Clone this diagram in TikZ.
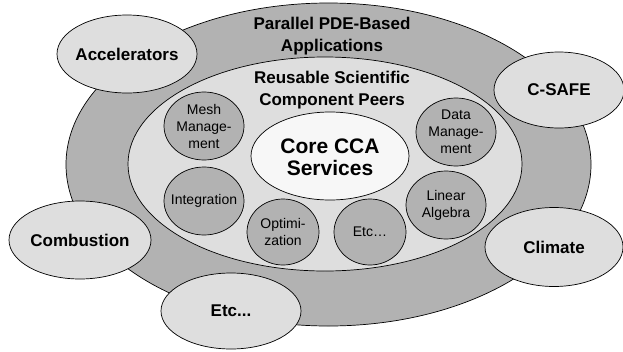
\documentclass[tikz,border=0pt]{standalone}
\usepackage{fontspec}
\setmainfont{Liberation Sans}
\usepackage{tikz}
\usetikzlibrary{shapes}
\usetikzlibrary{positioning}
\usetikzlibrary{shapes.geometric}
\definecolor{ringgray}{gray}{0.70}
\definecolor{palegray}{gray}{0.87}
\definecolor{coregray}{gray}{0.97}
\tikzstyle{blob} = [ellipse, draw=black, line width=0.7pt, inner sep=0]
\tikzstyle{app} = [blob, fill=palegray]
\tikzstyle{comp} = [blob, fill=ringgray]
\tikzstyle{bigtext} = [align=center, inner sep=0, font=\fontsize{17}{22}\selectfont\bfseries]
\tikzstyle{comptext} = [align=center, inner sep=0, font=\fontsize{14}{17}\selectfont]

\begin{document}
\begin{tikzpicture}[x=1pt, y=-1pt]
\useasboundingbox (0,0) rectangle (623,351);
\node [blob, fill=ringgray, minimum width=525, minimum height=323] (ring) at (328.5,164.5) {};
\node [bigtext] (ringlabel) at (332,36) {Parallel PDE-Based\\Applications};
\node [app, minimum width=140, minimum height=78, label={[bigtext]center:Accelerators}] (accel) at (127,54) {};
\node [app, minimum width=130, minimum height=76, label={[bigtext]center:C-SAFE}] (csafe) at (559,90) {};
\node [app, minimum width=142, minimum height=78, label={[bigtext]center:Combustion}] (combust) at (80,240) {};
\node [app, minimum width=138, minimum height=79, label={[bigtext]center:Climate}] (climate) at (554,247) {};
\node [app, minimum width=140, minimum height=76, label={[bigtext]center:Etc...}] (moreapps) at (231,311) {};
\node [blob, fill=palegray, minimum width=394, minimum height=214] (peers) at (325,164) {};
\node [bigtext] (peerlabel) at (332,90.5) {Reusable Scientific\\Component Peers};
\node [comp, minimum width=80, minimum height=68, label={[comptext]center:{Mesh\\Manage-\\ment}}] (mesh) at (204,126) {};
\node [comp, minimum width=80, minimum height=68, label={[comptext]center:Integration}] (integ) at (204,201) {};
\node [comp, minimum width=72, minimum height=66, label={[comptext]center:{Optimi-\\zation}}] (optim) at (283,232) {};
\node [comp, minimum width=72, minimum height=66, label={[comptext]center:{Etc\dots}}] (morecomps) at (370,232) {};
\node [comp, minimum width=80, minimum height=68, label={[comptext]center:{Linear\\Algebra}}] (linalg) at (446,205) {};
\node [comp, minimum width=80, minimum height=68, label={[comptext]center:{Data\\Manage-\\ment}}] (data) at (456,132) {};
\node [blob, fill=coregray, minimum width=158, minimum height=88, label={[bigtext, font=\fontsize{21}{22}\selectfont\bfseries, yshift=-1.5pt]center:{Core CCA\\Services}}] (core) at (330,156) {};
\end{tikzpicture}
\end{document}
